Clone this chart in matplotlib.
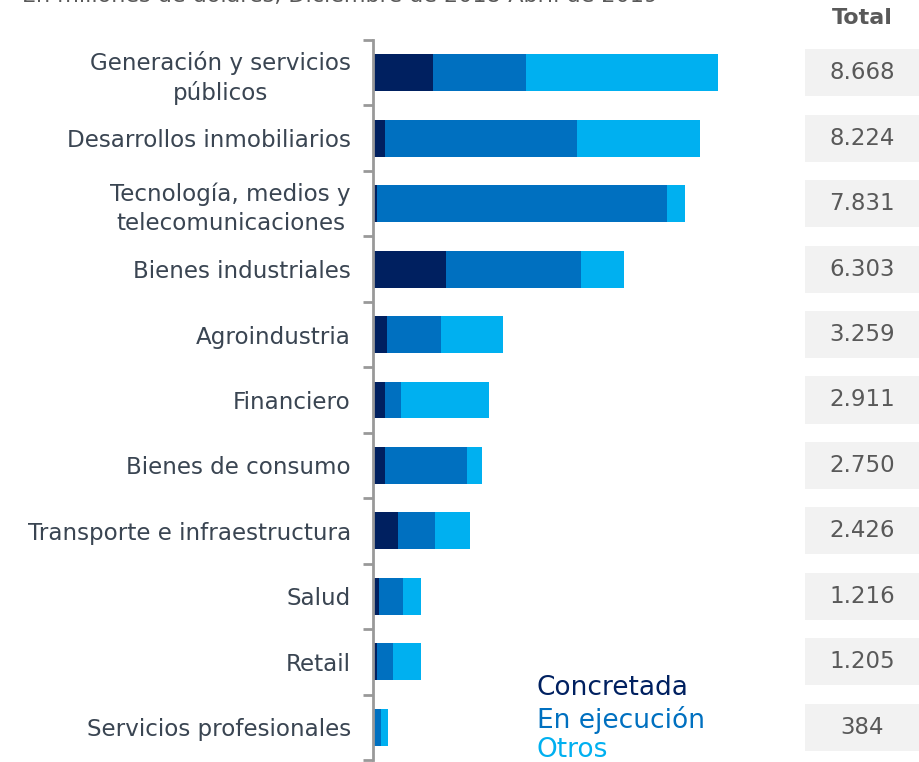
import matplotlib
matplotlib.use("Agg")
import matplotlib.pyplot as plt
import matplotlib.transforms as mtransforms
from matplotlib.patches import Rectangle

# data (millones de dólares)
sectores = ["Generación y servicios\npúblicos", "Desarrollos inmobiliarios",
            "Tecnología, medios y\ntelecomunicaciones", "Bienes industriales",
            "Agroindustria", "Financiero", "Bienes de consumo",
            "Transporte e infraestructura", "Salud", "Retail",
            "Servicios profesionales"]
concretada = [1507, 302, 93, 1825, 350, 300, 300, 625, 150, 90, 0]
en_ejecucion = [2337, 4829, 7300, 3400, 1360, 400, 2060, 925, 600, 400, 200]
otros = [4824, 3093, 438, 1078, 1549, 2211, 390, 876, 466, 715, 184]
totales = ["8.668", "8.224", "7.831", "6.303", "3.259", "2.911",
           "2.750", "2.426", "1.216", "1.205", "384"]

c_conc = "#002060"
c_ejec = "#0070C0"
c_otros = "#00B0F0"
c_lab = "#3A4552"
c_gray = "#595959"

W, H = 919, 762
fig = plt.figure(figsize=(W/100, H/100), dpi=100)
ax = fig.add_axes([373/W, 2/H, 1 - 373/W, (760-40)/H])

y = list(range(len(sectores)))
bh = 0.565
left2 = [a + b for a, b in zip(concretada, en_ejecucion)]
ax.barh(y, concretada, height=bh, color=c_conc)
ax.barh(y, en_ejecucion, left=concretada, height=bh, color=c_ejec)
ax.barh(y, otros, left=left2, height=bh, color=c_otros)

ax.set_xlim(0, 8668 * 546 / 345)
ax.set_ylim(len(sectores) - 0.5, -0.5)

for s in ["top", "right", "bottom"]:
    ax.spines[s].set_visible(False)
ax.spines["left"].set_color("#999999")
ax.spines["left"].set_linewidth(2)
ax.set_xticks([])
ax.set_yticks(y)
ax.set_yticklabels(sectores, fontsize=16.6, color=c_lab, linespacing=1.3,
                   multialignment="center")
ax.tick_params(axis="y", which="major", length=0, pad=16)
ax.set_yticks([i - 0.5 for i in range(len(sectores) + 1)], minor=True)
ax.tick_params(axis="y", which="minor", length=7, width=2, color="#999999")

# total boxes
tr = mtransforms.blended_transform_factory(ax.transAxes, ax.transData)
x0 = (805 - 373) / 546
for i, t in enumerate(totales):
    ax.add_patch(Rectangle((x0, i - 0.36), 1 - x0, 0.72, transform=tr,
                           facecolor="#F2F2F2", edgecolor="none", clip_on=False))
    ax.text((862 - 373) / 546, i, t, transform=tr, ha="center", va="center",
            fontsize=16.5, color=c_gray)

fig.text(862/W, 1 - 18/H, "Total", ha="center", va="center", fontsize=16,
         fontweight="bold", color=c_gray)

fig.text(22/W, 1 - 2/H, "En millones de dólares, Diciembre de 2018-Abril de 2019",
         ha="left", va="baseline", fontsize=16, color=c_gray)

# legend as coloured text
for txt, col, yy in [("Concretada", c_conc, 688), ("En ejecución", c_ejec, 720),
                     ("Otros", c_otros, 750)]:
    fig.text(537/W, 1 - yy/H, txt, ha="left", va="center", fontsize=19, color=col)

fig.savefig("out.png", dpi=100)
